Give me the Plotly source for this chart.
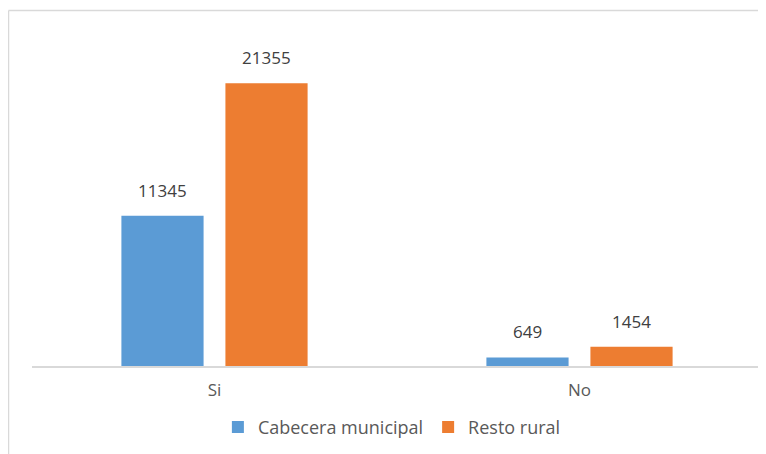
import plotly.graph_objects as go

# Data
categories = ["Si", "No"]
cabecera = [11345, 649]
resto_rural = [21355, 1454]
series_names = ["Cabecera municipal", "Resto rural"]

COLOR_BLUE = "#5B9BD5"
COLOR_ORANGE = "#ED7D31"
FONT = "Open Sans"

# page body has an 8px margin, so the figure is offset by 8px
ML, MR, MT, MB = 24, 12, 27, 96
PW = 766 - ML - MR
PH = 454 - MT - MB

fig = go.Figure()

fig.add_trace(go.Bar(
    x=categories,
    y=cabecera,
    name=series_names[0],
    marker_color=COLOR_BLUE,
    marker_line_width=0,
))

fig.add_trace(go.Bar(
    x=categories,
    y=resto_rural,
    name=series_names[1],
    marker_color=COLOR_ORANGE,
    marker_line_width=0,
))

# value labels above each bar
slot_px = 103.5
for shift, values in [(-slot_px / 2, cabecera), (slot_px / 2, resto_rural)]:
    for cat, val in zip(categories, values):
        fig.add_annotation(
            x=cat, y=val, text=str(val),
            xshift=shift, yshift=12,
            yanchor="bottom", showarrow=False,
            font=dict(family=FONT, size=17, color="#404040"),
        )

# chart border (top and left edges visible)
bx = (0.5 - ML) / PW
by = 1 + (MT - 2.5) / PH
fig.add_shape(type="line", xref="paper", yref="paper",
              x0=bx, y0=-0.35, x1=bx, y1=by,
              line=dict(color="#d9d9d9", width=1.5))
fig.add_shape(type="line", xref="paper", yref="paper",
              x0=bx, y0=by, x1=1.03, y1=by,
              line=dict(color="#d9d9d9", width=1.5))

fig.update_layout(
    width=766,
    height=454,
    barmode="group",
    bargap=0.43,
    bargroupgap=0.21,
    plot_bgcolor="white",
    paper_bgcolor="white",
    font=dict(family=FONT, size=16, color="#595959"),
    margin=dict(l=ML, r=MR, t=MT, b=MB),
    showlegend=True,
    legend=dict(
        orientation="h", x=0.493, xanchor="center",
        y=-0.185, yanchor="middle",
        font=dict(family=FONT, size=18, color="#595959"),
        itemwidth=30, traceorder="normal",
    ),
    xaxis=dict(
        showline=True, linecolor="#d9d9d9", linewidth=1.5,
        showgrid=False, ticks="", ticklabelstandoff=8,
        tickfont=dict(family=FONT, size=17, color="#595959"),
    ),
    yaxis=dict(
        range=[0, 25000], visible=False, showgrid=False, zeroline=False,
    ),
)

fig.write_html("out.html")
